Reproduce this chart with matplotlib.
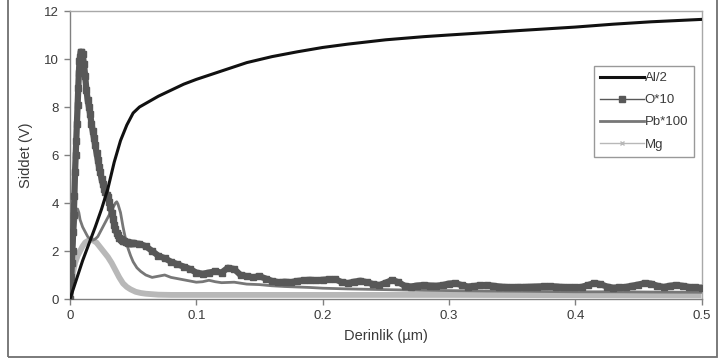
import matplotlib
matplotlib.use("Agg")
import matplotlib.pyplot as plt
from matplotlib.lines import Line2D
from matplotlib.patches import Rectangle

plt.rcParams['font.family'] = ['Liberation Sans', 'DejaVu Sans']

# ---------------- data ----------------
al_x = [0, 0.005, 0.01, 0.015, 0.02, 0.025, 0.03, 0.035, 0.04, 0.045, 0.05, 0.055,
        0.06, 0.07, 0.08, 0.09, 0.1, 0.12, 0.14, 0.16, 0.18, 0.2, 0.22, 0.25, 0.28,
        0.3, 0.33, 0.36, 0.4, 0.43, 0.46, 0.5]
al_y = [0, 0.8, 1.6, 2.3, 3.0, 3.75, 4.6, 5.7, 6.6, 7.25, 7.75, 8.0,
        8.15, 8.45, 8.7, 8.95, 9.15, 9.5, 9.85, 10.1, 10.3, 10.48, 10.62, 10.8, 10.93,
        11.0, 11.1, 11.2, 11.33, 11.45, 11.55, 11.65]

o_x = [0, 0.001, 0.0015, 0.002, 0.0025, 0.003, 0.0035, 0.004, 0.0045, 0.005, 0.0055,
       0.006, 0.0065, 0.007, 0.0075, 0.008, 0.0085, 0.009,
       0.010, 0.011, 0.012, 0.013, 0.014, 0.015, 0.016, 0.017, 0.018, 0.019, 0.020,
       0.021, 0.022, 0.023, 0.024, 0.025, 0.026, 0.027, 0.028, 0.029, 0.030,
       0.031, 0.032, 0.033, 0.034, 0.035, 0.036, 0.037, 0.038, 0.039, 0.040,
       0.041, 0.042, 0.043, 0.044, 0.045, 0.046, 0.047, 0.048, 0.049, 0.050,
       0.055, 0.060, 0.065, 0.070, 0.075, 0.080, 0.085, 0.090, 0.095, 0.100,
       0.105, 0.110, 0.115, 0.120, 0.125, 0.130, 0.135, 0.140, 0.145, 0.150,
       0.155, 0.160, 0.165, 0.170, 0.175, 0.180, 0.185, 0.190, 0.195, 0.200,
       0.205, 0.210, 0.215, 0.220, 0.225, 0.230, 0.235, 0.240, 0.245, 0.250,
       0.255, 0.260, 0.265, 0.270, 0.275, 0.280, 0.285, 0.290, 0.295, 0.300,
       0.305, 0.310, 0.315, 0.320, 0.325, 0.330, 0.335, 0.340, 0.345, 0.350,
       0.355, 0.360, 0.365, 0.370, 0.375, 0.380, 0.385, 0.390, 0.395, 0.400,
       0.405, 0.410, 0.415, 0.420, 0.425, 0.430, 0.435, 0.440, 0.445, 0.450,
       0.455, 0.460, 0.465, 0.470, 0.475, 0.480, 0.485, 0.490, 0.495, 0.500]
o_y = [0, 0.9, 1.5, 2.0, 2.8, 3.5, 4.3, 5.3, 6.0, 6.6, 7.3,
       8.1, 8.8, 9.4, 9.9, 10.1, 10.3, 10.3,
       10.2, 9.8, 9.3, 8.7, 8.3, 8.0, 7.7, 7.3, 7.0, 6.7, 6.4,
       6.1, 5.8, 5.5, 5.3, 5.0, 4.8, 4.6, 4.45, 4.35, 4.25,
       4.05, 3.85, 3.6, 3.35, 3.1, 2.9, 2.75, 2.65, 2.55, 2.5,
       2.45, 2.4, 2.4, 2.38, 2.36, 2.35, 2.35, 2.34, 2.33, 2.32,
       2.3, 2.2, 2.0, 1.8, 1.7, 1.55, 1.45, 1.35, 1.25, 1.1,
       1.05, 1.1, 1.15, 1.1, 1.3, 1.25, 1.0, 0.95, 0.9, 0.95,
       0.85, 0.75, 0.7, 0.72, 0.7, 0.75, 0.78, 0.8, 0.78, 0.8,
       0.82, 0.83, 0.7, 0.66, 0.72, 0.76, 0.7, 0.62, 0.58, 0.68,
       0.79, 0.7, 0.55, 0.52, 0.56, 0.58, 0.56, 0.55, 0.58, 0.64,
       0.66, 0.58, 0.52, 0.54, 0.57, 0.58, 0.55, 0.52, 0.5, 0.49,
       0.5, 0.5, 0.51, 0.52, 0.53, 0.53, 0.52, 0.5, 0.49, 0.49,
       0.5, 0.58, 0.66, 0.62, 0.52, 0.47, 0.48, 0.5, 0.55, 0.6,
       0.66, 0.64, 0.55, 0.5, 0.55, 0.58, 0.55, 0.5, 0.48, 0.47]

pb_x = [0, 0.002, 0.003, 0.004, 0.005, 0.006, 0.007, 0.008, 0.010, 0.012, 0.014,
        0.016, 0.018, 0.020, 0.022, 0.024, 0.026, 0.028, 0.030, 0.032, 0.034, 0.036,
        0.037, 0.038, 0.040, 0.042, 0.044, 0.046, 0.048, 0.050, 0.053, 0.056, 0.060,
        0.065, 0.070, 0.075, 0.080, 0.085, 0.090, 0.095, 0.100, 0.105, 0.110, 0.115,
        0.120, 0.130, 0.140, 0.150, 0.160, 0.170, 0.180, 0.190, 0.200, 0.220, 0.240,
        0.260, 0.280, 0.300, 0.330, 0.360, 0.400, 0.430, 0.460, 0.500]
pb_y = [0, 1.2, 2.2, 3.0, 3.5, 3.75, 3.6, 3.3, 3.0, 2.8, 2.6,
        2.5, 2.45, 2.5, 2.6, 2.8, 3.0, 3.2, 3.4, 3.6, 3.8, 4.0,
        4.05, 3.95, 3.6, 3.0, 2.5, 2.1, 1.8, 1.55, 1.3, 1.15, 1.0,
        0.9, 0.95, 1.0, 0.9, 0.85, 0.8, 0.75, 0.7, 0.72, 0.78, 0.72,
        0.68, 0.7, 0.62, 0.6, 0.55, 0.52, 0.5, 0.48, 0.45, 0.42, 0.4,
        0.38, 0.36, 0.35, 0.33, 0.32, 0.3, 0.3, 0.29, 0.28]

mg_x = [0, 0.002, 0.004, 0.006, 0.008, 0.010, 0.012, 0.015, 0.018, 0.021, 0.024,
        0.027, 0.030, 0.033, 0.036, 0.039, 0.042, 0.045, 0.048, 0.052, 0.056, 0.060,
        0.070, 0.080, 0.100, 0.150, 0.200, 0.300, 0.400, 0.500]
mg_y = [0, 1.0, 1.5, 1.8, 2.0, 2.2, 2.35, 2.45, 2.45, 2.35, 2.15,
        1.95, 1.75, 1.5, 1.2, 0.9, 0.65, 0.5, 0.4, 0.3, 0.25, 0.22,
        0.18, 0.17, 0.17, 0.17, 0.17, 0.17, 0.16, 0.15]

x_ticks = [0, 0.1, 0.2, 0.3, 0.4, 0.5]
x_tick_labels = ['0', '0.1', '0.2', '0.3', '0.4', '0.5']
y_ticks = [0, 2, 4, 6, 8, 10, 12]

# ---------------- figure ----------------
fig = plt.figure(figsize=(7.19, 3.61), dpi=100)
ax = fig.add_axes([70 / 719, 1 - 299 / 361, 631.5 / 719, 288 / 361])

c_al, c_o, c_pb, c_mg = '#111111', '#585858', '#777777', '#b8b8b8'

ax.plot(mg_x, mg_y, color=c_mg, lw=4.2, solid_capstyle='butt', zorder=2)
ax.plot(pb_x, pb_y, color=c_pb, lw=2.0, zorder=3)
ax.plot(o_x, o_y, color=c_o, lw=4.5, marker='s', ms=5, mec=c_o, mfc=c_o, zorder=4)
ax.plot(al_x, al_y, color=c_al, lw=2.2, zorder=5)

ax.set_xlim(0, 0.5)
ax.set_ylim(0, 12)
ax.set_xticks(x_ticks)
ax.set_xticklabels(x_tick_labels)
ax.set_yticks(y_ticks)

tc = '#3a3a3a'
ax.tick_params(axis='both', direction='out', length=4, width=1, color='#808080',
               labelsize=9.5, labelcolor=tc)
ax.tick_params(axis='x', pad=4)
ax.tick_params(axis='y', pad=4)
for s in ['left', 'bottom']:
    ax.spines[s].set_color('#808080')
for s in ['top', 'right']:
    ax.spines[s].set_color('#a8a8a8')
for s in ax.spines.values():
    s.set_linewidth(1.0)

ax.set_xlabel('Derinlik (µm)', fontsize=10.5, color=tc, labelpad=5)
ax.set_ylabel('Siddet (V)', fontsize=10.5, color=tc, labelpad=8)

handles = [
    Line2D([], [], color=c_al, lw=2.2),
    Line2D([], [], color=c_o, lw=1.0, marker='s', ms=4),
    Line2D([], [], color=c_pb, lw=2.0),
    Line2D([], [], color=c_mg, lw=1.0, marker='x', ms=3.5),
]
labels = ['Al/2', 'O*10', 'Pb*100', 'Mg']
leg = ax.legend(handles, labels, loc='upper right', bbox_to_anchor=(0.988, 0.809),
                borderaxespad=0, fontsize=9.5, frameon=True, fancybox=False,
                edgecolor='#808080', handlelength=3.3, handletextpad=0.05,
                labelspacing=0.75, borderpad=0.45)
leg.get_frame().set_linewidth(1.0)
for t in leg.get_texts():
    t.set_color(tc)

# outer chart border
fig.patches.append(Rectangle((8 / 719, 1 - 357 / 361), 709 / 719, 357 / 361 + 0.02,
                             transform=fig.transFigure, fill=False,
                             edgecolor='#707070', lw=1.3))

fig.savefig('out.png', dpi=100)
